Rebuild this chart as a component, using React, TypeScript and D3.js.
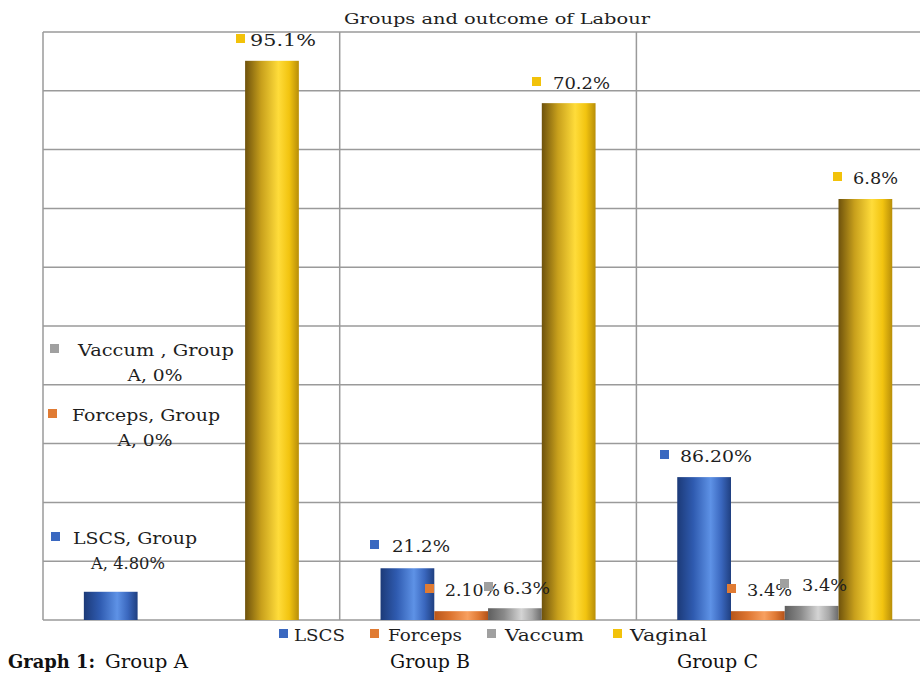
import React from "react";
import * as d3 from "d3";

const groups = ["Group A", "Group B", "Group C"];
const series = ["LSCS", "Forceps", "Vaccum", "Vaginal"];
// bar heights as drawn (percent of axis)
const lscs = [4.8, 8.8, 24.3];
const forceps = [0, 1.5, 1.5];
const vaccum = [0, 2.0, 2.4];
const vaginal = [95.1, 87.9, 71.6];
const yTicks = [0, 10, 20, 30, 40, 50, 60, 70, 80, 90, 100];
const title = "Groups and outcome of Labour";
// data label texts (as printed)
const lscsLabels = [["LSCS, Group", "A, 4.80%"], ["21.2%"], ["86.20%"]];
const forcepsLabels = [["Forceps, Group", "A, 0%"], ["2.10%"], ["3.4%"]];
const vaccumLabels = [["Vaccum , Group", "A, 0%"], ["6.3%"], ["3.4%"]];
const vaginalLabels = [["95.1%"], ["70.2%"], ["6.8%"]];

const values = [lscs, forceps, vaccum, vaginal];
const labels = [lscsLabels, forcepsLabels, vaccumLabels, vaginalLabels];

const W = 920, H = 673;
const left = 43, top = 32, bottom = 620, groupW = 296.7;

const grads = [
  { id: "gBlue", stops: ["#1c3a78", "#2f5bb0", "#5e92e6", "#3a67be", "#1f3f80"], flat: "#3a68c0" },
  { id: "gOrange", stops: ["#b8561a", "#dc7430", "#f8a060", "#e07a35", "#b45219"], flat: "#e07b33" },
  { id: "gGray", stops: ["#5e5e5e", "#8a8a8a", "#d4d4d4", "#a8a8a8", "#6a6a6a"], flat: "#a0a0a0" },
  { id: "gGold", stops: ["#6e520c", "#c8a01c", "#ffdc3a", "#f2c410", "#b88e08"], flat: "#f2c20a" },
];

// label layout per series-group: marker x, text x, baseline y, text widths, 2nd-line center
const labelPos: Record<string, { mx: number; tx: number; y: number; w: number[]; cx?: number }> = {
  "0-0": { mx: 51, tx: 73, y: 544, w: [124, 74], cx: 128 },
  "0-1": { mx: 370, tx: 392, y: 552, w: [58] },
  "0-2": { mx: 660, tx: 680, y: 462, w: [72] },
  "1-0": { mx: 48, tx: 72, y: 421, w: [148, 55], cx: 145 },
  "1-1": { mx: 425, tx: 445, y: 596, w: [55] },
  "1-2": { mx: 727, tx: 747, y: 596, w: [45] },
  "2-0": { mx: 50, tx: 78, y: 356, w: [156, 55], cx: 155 },
  "2-1": { mx: 484, tx: 503, y: 594, w: [47] },
  "2-2": { mx: 780, tx: 802, y: 591, w: [45] },
  "3-0": { mx: 236, tx: 250, y: 46, w: [66] },
  "3-1": { mx: 532, tx: 553, y: 89, w: [57] },
  "3-2": { mx: 833, tx: 853, y: 184, w: [45] },
};

const legendPos = [
  { mx: 279, tx: 294, w: 51 },
  { mx: 370, tx: 388, w: 74 },
  { mx: 487, tx: 505, w: 79 },
  { mx: 613, tx: 630, w: 77 },
];
const captionPos = [
  { x: 105, w: 83 },
  { x: 390, w: 80 },
  { x: 677, w: 81 },
];

export default function App() {
  const x0 = d3.scaleBand<string>().domain(groups).range([left, left + groupW * 3]).paddingInner(0).paddingOuter(0);
  const x1 = d3.scaleBand<string>().domain(series).range([0, x0.bandwidth()]).paddingInner(0).paddingOuter(0.76);
  const y = d3.scaleLinear().domain([0, 100]).range([bottom, top]);
  const serif = "'DejaVu Serif', serif";
  const textColor = "#1e1e1e";

  return (
    <svg width={W} height={H} style={{ position: "absolute", left: 0, top: 0, background: "#fff" }}>
      <defs>
        {grads.map((g) => (
          <linearGradient key={g.id} id={g.id} x1="0" x2="1" y1="0" y2="0">
            {g.stops.map((c, i) => (
              <stop key={i} offset={[0, 0.3, 0.62, 0.82, 1][i]} stopColor={c} />
            ))}
          </linearGradient>
        ))}
      </defs>
      <rect width={W} height={H} fill="#fff" />
      {/* gridlines */}
      {yTicks.map((t) => (
        <line key={t} x1={left} x2={W} y1={y(t)} y2={y(t)} stroke="#9a9a9a" strokeWidth={1.5} />
      ))}
      {groups.map((g) => (
        <line key={g} x1={x0(g)!} x2={x0(g)!} y1={top} y2={bottom} stroke="#9a9a9a" strokeWidth={1.5} />
      ))}
      {/* bars */}
      {series.map((s, si) =>
        groups.map((g, gi) => {
          const v = values[si][gi];
          if (v <= 0) return null;
          const bx = x0(g)! + x1(s)!;
          return (
            <rect key={s + g} x={bx} y={y(v)} width={x1.bandwidth()} height={y(0) - y(v)} fill={`url(#${grads[si].id})`} />
          );
        })
      )}
      {/* title */}
      <text x={497} y={24} textAnchor="middle" fontFamily={serif} fontSize={14.5} fill={textColor} textLength={306} lengthAdjust="spacingAndGlyphs">
        {title}
      </text>
      {/* data labels */}
      {series.map((s, si) =>
        groups.map((g, gi) => {
          const p = labelPos[`${si}-${gi}`];
          const lines = labels[si][gi];
          return (
            <g key={"l" + s + g}>
              <rect x={p.mx} y={p.y - 12} width={9} height={9} fill={grads[si].flat} />
              {lines.map((ln, li) =>
                li === 0 ? (
                  <text key={li} x={p.tx} y={p.y} fontFamily={serif} fontSize={17} fill={textColor} textLength={p.w[0]} lengthAdjust="spacingAndGlyphs">{ln}</text>
                ) : (
                  <text key={li} x={p.cx} y={p.y + 25} textAnchor="middle" fontFamily={serif} fontSize={17} fill={textColor} textLength={p.w[1]} lengthAdjust="spacingAndGlyphs">{ln}</text>
                )
              )}
            </g>
          );
        })
      )}
      {/* legend */}
      {series.map((s, si) => (
        <g key={"lg" + s}>
          <rect x={legendPos[si].mx} y={629} width={9} height={9} fill={grads[si].flat} />
          <text x={legendPos[si].tx} y={641} fontFamily={serif} fontSize={17} fill={textColor} textLength={legendPos[si].w} lengthAdjust="spacingAndGlyphs">{s}</text>
        </g>
      ))}
      {/* caption */}
      <text x={8} y={668} fontFamily={serif} fontSize={18} fontWeight="bold" fill="#111" textLength={87} lengthAdjust="spacingAndGlyphs">Graph 1:</text>
      {groups.map((g, gi) => (
        <text key={"c" + g} x={captionPos[gi].x} y={668} fontFamily={serif} fontSize={18} fill="#111" textLength={captionPos[gi].w} lengthAdjust="spacingAndGlyphs">{g}</text>
      ))}
    </svg>
  );
}
